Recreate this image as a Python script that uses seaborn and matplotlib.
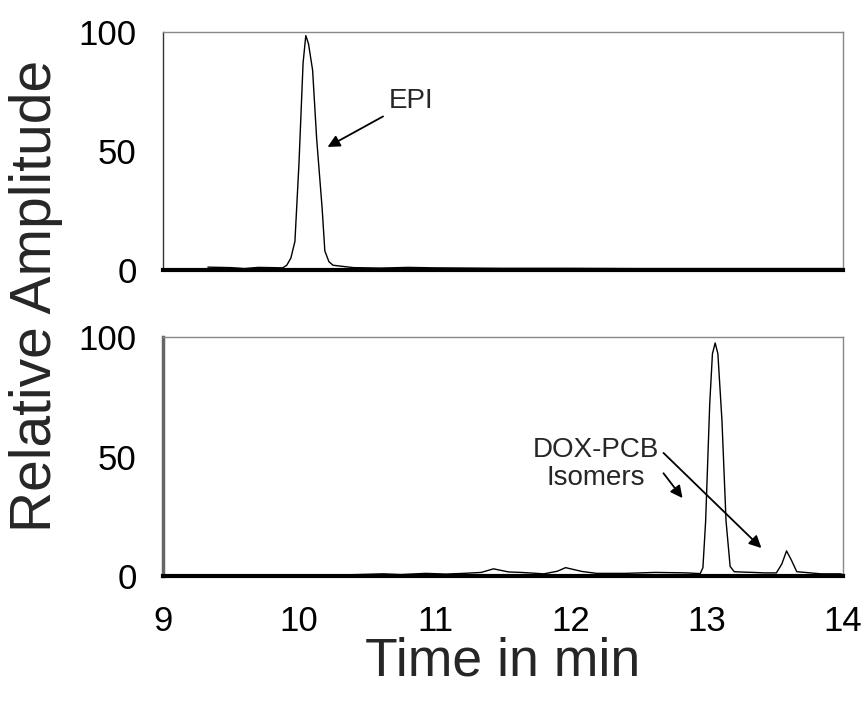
import matplotlib
matplotlib.use("Agg")
import matplotlib.pyplot as plt
import seaborn as sns
import pandas as pd

# ---- data ----
epi_time = [9.33, 9.5, 9.6, 9.7, 9.8, 9.88, 9.91, 9.94, 9.97, 10.00, 10.03, 10.05,
            10.07, 10.10, 10.13, 10.17, 10.19, 10.22, 10.25, 10.4, 10.6, 10.8,
            11.0, 11.5, 12.0, 12.5, 13.0, 13.5, 14.0]
epi_amp = [1.2, 1.0, 0.6, 1.1, 1.0, 0.9, 2.0, 5.0, 12.0, 45.0, 87.0, 98.5,
           95.0, 84.0, 55.0, 26.0, 8.0, 3.5, 2.0, 1.0, 0.8, 1.1,
           0.9, 0.7, 0.7, 0.6, 0.6, 0.6, 0.6]

dox_time = [9.0, 9.5, 10.0, 10.3, 10.62, 10.75, 10.93, 11.08, 11.21, 11.34, 11.43,
            11.54, 11.63, 11.72, 11.80, 11.90, 11.96, 12.08, 12.19, 12.4, 12.62,
            12.85, 12.95, 12.97, 12.99, 13.02, 13.04, 13.06, 13.08, 13.11, 13.14,
            13.17, 13.20, 13.28, 13.34, 13.42, 13.51, 13.55, 13.585, 13.62, 13.66,
            13.72, 13.84, 13.98, 14.0]
dox_amp = [0.3, 0.3, 0.3, 0.4, 0.9, 0.6, 1.1, 0.8, 1.1, 1.5, 3.0,
           1.7, 1.5, 1.2, 0.9, 2.0, 3.5, 1.9, 1.1, 1.1, 1.5,
           1.3, 1.0, 3.5, 23.0, 72.0, 93.0, 97.5, 93.0, 65.0, 23.0,
           4.0, 1.8, 1.6, 1.5, 1.3, 1.3, 5.0, 10.5, 6.7, 1.8,
           1.5, 0.9, 0.9, 0.6]

x_ticks = [9, 10, 11, 12, 13, 14]
y_ticks = [0, 50, 100]

sns.set_style("white")
plt.rcParams["font.family"] = ["Liberation Sans", "DejaVu Sans"]

fig = plt.figure(figsize=(8.64, 7.04), dpi=100)
W, H = 864, 704
ax1 = fig.add_axes([163 / W, 1 - 270 / H, 680 / W, 238 / H])
ax2 = fig.add_axes([163 / W, 1 - 576 / H, 680 / W, 239 / H])

df1 = pd.DataFrame({"t": epi_time, "a": epi_amp})
df2 = pd.DataFrame({"t": dox_time, "a": dox_amp})
sns.lineplot(data=df1, x="t", y="a", ax=ax1, color="black", lw=1.0)
sns.lineplot(data=df2, x="t", y="a", ax=ax2, color="black", lw=1.0)

for ax in (ax1, ax2):
    ax.set_xlim(9, 14)
    ax.set_ylim(0, 100)
    ax.set_xticks(x_ticks)
    ax.set_yticks(y_ticks)
    ax.set_xlabel("")
    ax.set_ylabel("")
    ax.tick_params(axis="both", direction="out", length=9, width=1,
                   color="#555555", labelsize=25, labelcolor="black")
    ax.tick_params(axis="y", pad=10)
    ax.tick_params(axis="x", pad=12)
    ax.spines["top"].set_color("#888888")
    ax.spines["right"].set_color("#888888")
    ax.spines["top"].set_linewidth(1.0)
    ax.spines["right"].set_linewidth(1.0)
    ax.spines["bottom"].set_color("black")
    ax.spines["bottom"].set_linewidth(3.0)
    for s in ax.spines.values():
        s.set_visible(True)

ax1.spines["left"].set_color("#333333")
ax1.spines["left"].set_linewidth(1.0)
ax2.spines["left"].set_color("#666666")
ax2.spines["left"].set_linewidth(2.5)
ax1.set_xticklabels([])

ax1.annotate("EPI", xy=(10.21, 51.7), xytext=(10.66, 71),
             fontsize=20, va="center", ha="left",
             arrowprops=dict(arrowstyle="-|>", color="black", lw=1.3,
                             mutation_scale=18, shrinkA=2, shrinkB=0))

ax2.text(12.18, 47, "DOX-PCB\nIsomers", fontsize=20, ha="center",
         va="center", linespacing=1.1)
ax2.annotate("", xy=(13.40, 11.7), xytext=(12.68, 51.5),
             arrowprops=dict(arrowstyle="-|>", color="black", lw=1.3,
                             mutation_scale=18, shrinkA=0, shrinkB=0))
ax2.annotate("", xy=(12.82, 32.6), xytext=(12.68, 43.0),
             arrowprops=dict(arrowstyle="-|>", color="black", lw=1.3,
                             mutation_scale=18, shrinkA=0, shrinkB=0))

fig.text(36 / W, 1 - 296 / H, "Relative Amplitude", rotation=90,
         fontsize=41, ha="center", va="center")
fig.text(503 / W, 1 - 662 / H, "Time in min", fontsize=38.5,
         ha="center", va="center")

fig.savefig("out.png", dpi=100)
